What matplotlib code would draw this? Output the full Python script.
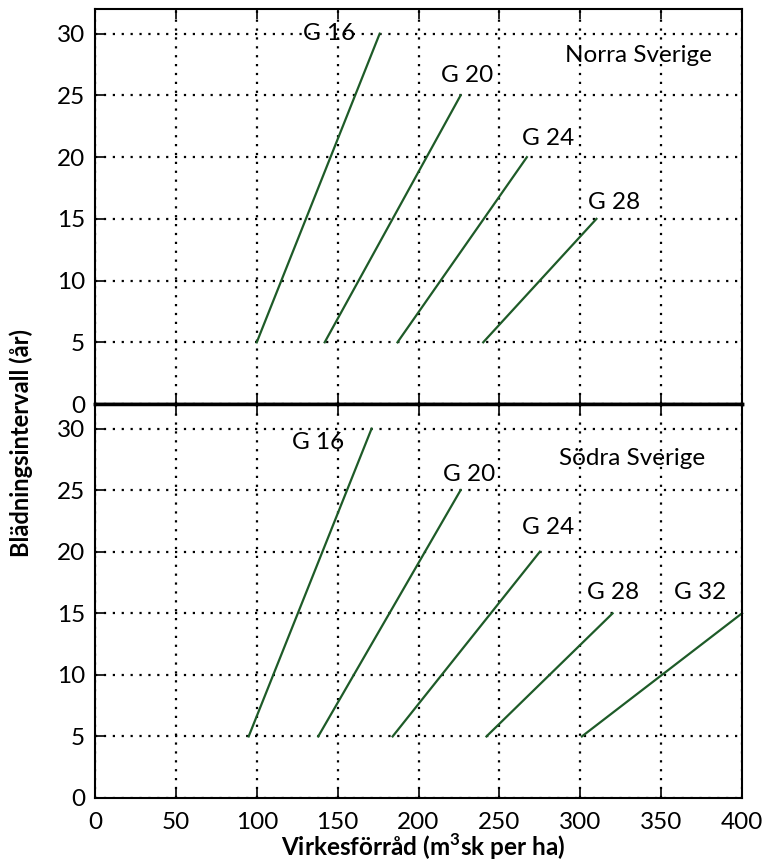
import numpy as np
import matplotlib
matplotlib.use('Agg')
import matplotlib.pyplot as plt

plt.rcParams['font.family'] = ['Lato', 'DejaVu Sans']
plt.rcParams['mathtext.fontset'] = 'custom'
plt.rcParams['mathtext.bf'] = 'Lato:bold'
plt.rcParams['mathtext.rm'] = 'Lato'

#%% Data

# Norra Sverige: start and end points of each G line
norr_names = ['G 16', 'G 20', 'G 24', 'G 28']
norr_x0 = [100, 142, 187, 240]
norr_x1 = [176, 226, 267, 310]
norr_y0 = [5, 5, 5, 5]
norr_y1 = [30, 25, 20, 15]
norr_label_x = [145, 230, 280, 321]
norr_label_y = [30.0, 26.6, 21.5, 16.3]

# Södra Sverige
sodr_names = ['G 16', 'G 20', 'G 24', 'G 28', 'G 32']
sodr_x0 = [95, 138, 184, 242, 301]
sodr_x1 = [171, 226, 275, 320, 400]
sodr_y0 = [5, 5, 5, 5, 5]
sodr_y1 = [30, 25, 20, 15, 15]
sodr_label_x = [138, 231, 280, 320, 374]
sodr_label_y = [28.9, 26.3, 22.0, 16.7, 16.7]

x_ticks = [0, 50, 100, 150, 200, 250, 300, 350, 400]
y_ticks = [0, 5, 10, 15, 20, 25, 30]

line_col = '#1e5b28'
fs = 17.5

#%% Plot

fig = plt.figure(figsize=(7.63, 8.67), dpi=100)
ax_top = fig.add_axes([0.1245, 0.534, 0.848, 0.4556])
ax_bot = fig.add_axes([0.1245, 0.0796, 0.848, 0.4544])


def style_axis(ax):
    ax.set_xlim(0, 400)
    ax.set_ylim(0, 32)
    ax.set_xticks(x_ticks)
    ax.set_yticks(y_ticks)
    ax.grid(True, color='black', linestyle=(0, (1, 3)), linewidth=1.6)
    ax.tick_params(direction='in', length=7, width=1.2, labelsize=fs,
                   colors='black', top=True)
    ax.tick_params(axis='y', pad=7)
    ax.tick_params(axis='x', pad=10)
    for sp in ax.spines.values():
        sp.set_linewidth(1.5)


style_axis(ax_top)
style_axis(ax_bot)

for i in range(len(norr_names)):
    ax_top.plot([norr_x0[i], norr_x1[i]], [norr_y0[i], norr_y1[i]],
                color=line_col, linewidth=1.6)
    ax_top.text(norr_label_x[i], norr_label_y[i], norr_names[i],
                fontsize=fs, ha='center', va='center')
ax_top.text(336, 28.2, 'Norra Sverige', fontsize=fs, ha='center', va='center')
ax_top.tick_params(labelbottom=False)

for i in range(len(sodr_names)):
    ax_bot.plot([sodr_x0[i], sodr_x1[i]], [sodr_y0[i], sodr_y1[i]],
                color=line_col, linewidth=1.6, clip_on=False)
    ax_bot.text(sodr_label_x[i], sodr_label_y[i], sodr_names[i],
                fontsize=fs, ha='center', va='center')
ax_bot.text(332, 27.6, 'Södra Sverige', fontsize=fs, ha='center', va='center')

# boundary between the panels is drawn heavier
ax_top.spines['bottom'].set_linewidth(2.5)
ax_bot.spines['top'].set_linewidth(2.5)

fig.text(0.028, 0.489, 'Blädningsintervall (år)', rotation=90,
         ha='center', va='center', fontsize=17, fontweight='bold')
fig.text(0.554, 0.006, 'Virkesförråd (m$^{\\mathbf{3}}$sk per ha)',
         ha='center', va='bottom', fontsize=17.5, fontweight='bold')

fig.savefig('out.png', dpi=100)
